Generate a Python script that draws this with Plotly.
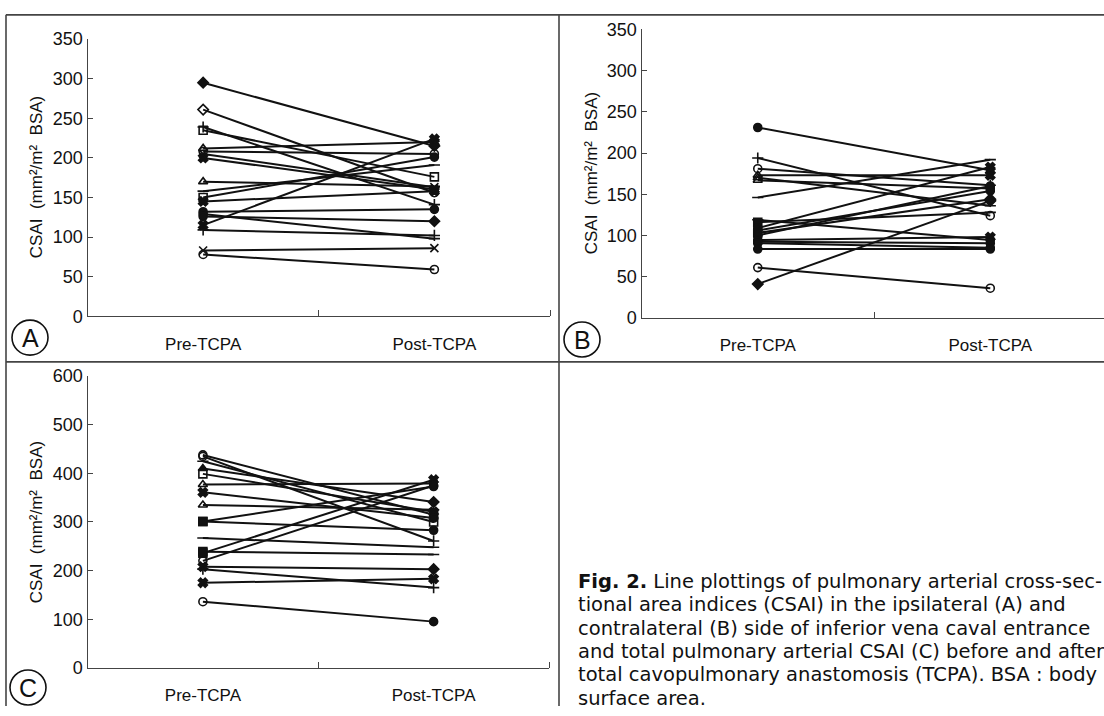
import plotly.graph_objects as go

W, H = 1104, 716

# ---------------- data ----------------
categories = ["Pre-TCPA", "Post-TCPA"]

pre_A = [295, 261, 235, 239, 212, 208, 205, 200, 170, 158, 150, 145, 132, 129, 126, 115, 109, 83, 78]
post_A = [215, 156, 176, 141, 220, 205, 163, 160, 164, 191, 201, 158, 135, 98, 120, 224, 102, 86, 59]

pre_B = [231, 194, 181, 173, 170, 167, 146, 119, 116, 109, 106, 103, 100, 94.5, 92.5, 90.5, 83.5, 61, 41]
post_B = [179, 124, 161, 173, 136, 157, 192, 94.5, 128, 183, 154, 144, 160, 98, 90.5, 85, 83.5, 36, 142]

pre_C = [438, 435, 425, 410, 399, 377, 361, 335, 301, 301, 267, 239, 236, 220, 208, 203, 175, 136]
post_C = [315, 261, 300, 341, 321, 379, 308, 325, 373, 283, 248, 233, 387, 375, 203, 165, 183, 95]

y_ticks_AB = [0, 50, 100, 150, 200, 250, 300, 350]
y_ticks_C = [0, 100, 200, 300, 400, 500, 600]

caption_lines = [
    "<b>Fig. 2.</b> Line plottings of pulmonary arterial cross-sec-",
    "tional area indices (CSAI) in the ipsilateral (A) and",
    "contralateral (B) side of inferior vena caval entrance",
    "and total pulmonary arterial CSAI (C) before and after",
    "total cavopulmonary anastomosis (TCPA). BSA : body",
    "surface area.",
]
y_title = "CSAI\u00a0\u00a0(mm²/m²\u00a0\u00a0BSA)"

# ---------------- styles ----------------
sym_pre_A = ["diamond", "diamond-open", "square-open", "cross-thin-open", "triangle-up-open", "circle-open",
             "x-thin-open", "x", "triangle-up-open", "line-ew-open", "square-open", "x", "circle", "circle",
             "circle", "x", "cross-thin-open", "x-thin-open", "circle-open"]
sym_post_A = ["diamond", "circle-open", "square-open", "cross-thin-open", "x", "circle-open",
              "x-thin-open", "x", "line-ew-open", "line-ew-open", "circle", "x", "circle", "line-ew-open",
              "diamond", "x", "cross-thin-open", "x-thin-open", "circle-open"]

sym_pre_B = ["circle", "cross-thin-open", "circle-open", "triangle-up-open", "triangle-up-open", "triangle-up-open",
             "line-ew-open", "line-ew-open", "square", "circle", "circle", "square", "circle", "circle", "circle",
             "circle", "circle", "circle-open", "diamond"]
sym_post_B = ["x", "circle-open", "cross-thin-open", "x", "line-ew-open", "circle-open", "line-ew-open", "circle",
              "line-ew-open", "x", "circle", "diamond", "circle", "x", "circle", "circle", "circle", "circle-open",
              "diamond"]

sym_pre_C = ["circle-open", "circle-open", "line-ew-open", "triangle-up", "square-open", "triangle-up-open", "x",
             "triangle-up-open", "square", "square", "line-ew-open", "square", "square", "circle-open", "x",
             "cross-thin-open", "x", "circle-open"]
sym_post_C = ["square-open", "cross-thin-open", "square-open", "diamond", "x", "x-thin-open", "circle",
              "line-ew-open", "circle", "circle", "line-ew-open", "line-ew-open", "x", "circle", "diamond",
              "cross-thin-open", "x", "circle"]

FONT = "Liberation Sans"
BLACK = "#111111"
FRAME = "#444444"

fig = go.Figure()


def add_panel(pre, post, sp, sq, xref, yref):
    for a, b, s1, s2 in zip(pre, post, sp, sq):
        fig.add_trace(go.Scatter(
            x=[0, 1], y=[a, b], mode="lines+markers",
            xaxis=xref, yaxis=yref, showlegend=False, hoverinfo="skip",
            line=dict(color=BLACK, width=2),
            marker=dict(symbol=[s1, s2], size=8, color=BLACK,
                        line=dict(color=BLACK, width=1.6)),
        ))


add_panel(pre_A, post_A, sym_pre_A, sym_post_A, "x", "y")
add_panel(pre_B, post_B, sym_pre_B, sym_post_B, "x2", "y2")
add_panel(pre_C, post_C, sym_pre_C, sym_post_C, "x3", "y3")


def px_x(p):
    return p / W


def px_y(p):
    return 1 - p / H


def xaxis(domain_px, rng, anchor):
    return dict(
        domain=[px_x(domain_px[0]), px_x(domain_px[1])], range=rng, anchor=anchor,
        showline=True, linecolor=FRAME, linewidth=1.2, showgrid=False, zeroline=False,
        tickmode="array", tickvals=[0, 1], ticktext=categories, ticks="",
        ticklabelstandoff=12,
        tickfont=dict(family=FONT, size=17, color=BLACK),
        minor=dict(tickmode="array", tickvals=[0.5, 1.5], ticks="inside", ticklen=6,
                   tickcolor=FRAME, tickwidth=1.2),
        fixedrange=True,
    )


def yaxis(domain_px, rng, ticks, anchor):
    return dict(
        domain=[px_y(domain_px[1]), px_y(domain_px[0])], range=rng, anchor=anchor,
        showline=True, linecolor=FRAME, linewidth=1.2, showgrid=False, zeroline=False,
        tickmode="array", tickvals=ticks, ticks="inside", ticklen=5, tickcolor=FRAME, tickwidth=1.2,
        tickfont=dict(family=FONT, size=18, color=BLACK),
        fixedrange=True,
    )


fig.update_layout(
    width=W, height=H, margin=dict(l=0, r=0, t=0, b=0),
    paper_bgcolor="white", plot_bgcolor="white",
    xaxis=xaxis((87.5, 550), [-0.5, 1.5], "y"),
    yaxis=yaxis((30, 315), [0, 350], y_ticks_AB, "x"),
    xaxis2=xaxis((641.5, 1104), [-0.5, 1.489], "y2"),
    yaxis2=yaxis((20, 316.7), [0, 350], y_ticks_AB, "x2"),
    xaxis3=xaxis((87.5, 549), [-0.5, 1.5], "y3"),
    yaxis3=yaxis((376.7, 676.7), [0, 600], y_ticks_C, "x3"),
)

# y-axis titles
for xc, yc in [(36, 172), (591, 168), (36, 527)]:
    fig.add_annotation(xref="paper", yref="paper", x=px_x(xc), y=px_y(yc), text=y_title,
                       textangle=-90, showarrow=False, xanchor="center", yanchor="middle",
                       font=dict(family=FONT, size=17, color=BLACK))

# panel letters in circles
for letter, (cx, cy) in zip(["A", "B", "C"], [(30, 337), (582, 339), (28, 697)]):
    r = 18
    fig.add_shape(type="circle", xref="paper", yref="paper",
                  x0=px_x(cx - r), x1=px_x(cx + r), y0=px_y(cy + r), y1=px_y(cy - r),
                  line=dict(color=BLACK, width=1.6))
    fig.add_annotation(xref="paper", yref="paper", x=px_x(cx), y=px_y(cy), text=letter,
                       showarrow=False, xanchor="center", yanchor="middle",
                       font=dict(family=FONT, size=25, color=BLACK))

# frame lines
for x0, y0, x1, y1 in [(6, 5, 1104, 5), (6, 5, 6, 716), (6, 362, 1104, 362), (559, 5, 559, 716)]:
    fig.add_shape(type="line", xref="paper", yref="paper",
                  x0=px_x(x0), y0=px_y(y0), x1=px_x(x1), y1=px_y(y1),
                  line=dict(color=FRAME, width=1.6))

# caption
for i, line in enumerate(caption_lines):
    fig.add_annotation(xref="paper", yref="paper", x=px_x(576), y=px_y(588 + 24 * i), text=line,
                       showarrow=False, xanchor="left", yanchor="middle",
                       font=dict(family="DejaVu Sans", size=19.5, color=BLACK))

fig.write_html("out.html", config={"displayModeBar": False},
               post_script="document.body.style.margin='0';document.body.style.overflow='hidden';")
